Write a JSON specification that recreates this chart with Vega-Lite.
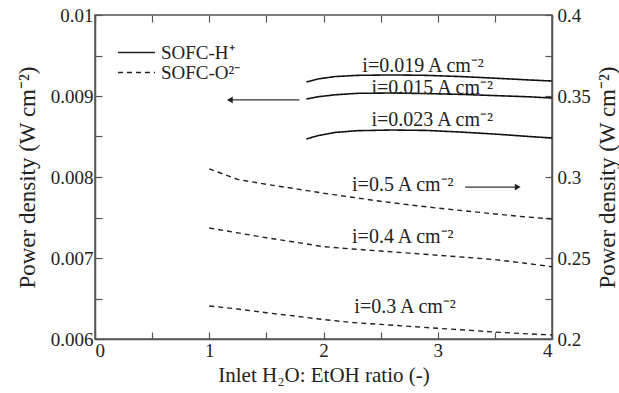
{
  "$schema": "https://vega.github.io/schema/vega-lite/v6.json",
  "width": 457,
  "height": 324,
  "autosize": {"type": "none"},
  "padding": {"left": 95, "top": 15, "right": 67, "bottom": 54},
  "background": "white",
  "config": {
    "font": "Liberation Serif",
    "view": {"stroke": "#555", "strokeWidth": 1.5},
    "axis": {
      "domainColor": "#555",
      "domainWidth": 1.5,
      "tickColor": "#555",
      "tickWidth": 1.2,
      "grid": false,
      "labelFont": "Liberation Serif",
      "labelFontSize": 19,
      "labelColor": "#222",
      "titleFont": "Liberation Serif",
      "titleFontSize": 22,
      "titleFontWeight": "normal",
      "titleColor": "#222"
    },
    "legend": {
      "labelFont": "Liberation Serif",
      "labelFontSize": 19,
      "labelColor": "#222"
    }
  },
  "datasets": {
    "solid": [
      {"series": "i=0.019", "type": "SOFC-H⁺", "ratio": 1.85, "pd": 0.009173},
      {"series": "i=0.019", "type": "SOFC-H⁺", "ratio": 1.95, "pd": 0.00921},
      {"series": "i=0.019", "type": "SOFC-H⁺", "ratio": 2.1, "pd": 0.00924},
      {"series": "i=0.019", "type": "SOFC-H⁺", "ratio": 2.3, "pd": 0.009255},
      {"series": "i=0.019", "type": "SOFC-H⁺", "ratio": 2.6, "pd": 0.00926},
      {"series": "i=0.019", "type": "SOFC-H⁺", "ratio": 2.9, "pd": 0.009255},
      {"series": "i=0.019", "type": "SOFC-H⁺", "ratio": 3.2, "pd": 0.00924},
      {"series": "i=0.019", "type": "SOFC-H⁺", "ratio": 3.5, "pd": 0.00922},
      {"series": "i=0.019", "type": "SOFC-H⁺", "ratio": 3.8, "pd": 0.009198},
      {"series": "i=0.019", "type": "SOFC-H⁺", "ratio": 4.0, "pd": 0.009185},
      {"series": "i=0.015", "type": "SOFC-H⁺", "ratio": 1.85, "pd": 0.008963},
      {"series": "i=0.015", "type": "SOFC-H⁺", "ratio": 1.95, "pd": 0.00899},
      {"series": "i=0.015", "type": "SOFC-H⁺", "ratio": 2.1, "pd": 0.009015},
      {"series": "i=0.015", "type": "SOFC-H⁺", "ratio": 2.3, "pd": 0.009033},
      {"series": "i=0.015", "type": "SOFC-H⁺", "ratio": 2.6, "pd": 0.009037},
      {"series": "i=0.015", "type": "SOFC-H⁺", "ratio": 2.9, "pd": 0.00903},
      {"series": "i=0.015", "type": "SOFC-H⁺", "ratio": 3.2, "pd": 0.00902},
      {"series": "i=0.015", "type": "SOFC-H⁺", "ratio": 3.5, "pd": 0.009005},
      {"series": "i=0.015", "type": "SOFC-H⁺", "ratio": 3.8, "pd": 0.00899},
      {"series": "i=0.015", "type": "SOFC-H⁺", "ratio": 4.0, "pd": 0.008975},
      {"series": "i=0.023", "type": "SOFC-H⁺", "ratio": 1.85, "pd": 0.008469},
      {"series": "i=0.023", "type": "SOFC-H⁺", "ratio": 1.95, "pd": 0.00851},
      {"series": "i=0.023", "type": "SOFC-H⁺", "ratio": 2.1, "pd": 0.00855},
      {"series": "i=0.023", "type": "SOFC-H⁺", "ratio": 2.3, "pd": 0.008572},
      {"series": "i=0.023", "type": "SOFC-H⁺", "ratio": 2.6, "pd": 0.00858},
      {"series": "i=0.023", "type": "SOFC-H⁺", "ratio": 2.9, "pd": 0.008575},
      {"series": "i=0.023", "type": "SOFC-H⁺", "ratio": 3.2, "pd": 0.008555},
      {"series": "i=0.023", "type": "SOFC-H⁺", "ratio": 3.5, "pd": 0.00853},
      {"series": "i=0.023", "type": "SOFC-H⁺", "ratio": 3.8, "pd": 0.0085},
      {"series": "i=0.023", "type": "SOFC-H⁺", "ratio": 4.0, "pd": 0.008481}
    ],
    "dashed": [
      {"series": "i=0.5", "type": "SOFC-O²⁻", "ratio": 1.0, "pd": 0.305},
      {"series": "i=0.5", "type": "SOFC-O²⁻", "ratio": 1.25, "pd": 0.2985},
      {"series": "i=0.5", "type": "SOFC-O²⁻", "ratio": 1.5, "pd": 0.2955},
      {"series": "i=0.5", "type": "SOFC-O²⁻", "ratio": 1.75, "pd": 0.2928},
      {"series": "i=0.5", "type": "SOFC-O²⁻", "ratio": 2.0, "pd": 0.29},
      {"series": "i=0.5", "type": "SOFC-O²⁻", "ratio": 2.25, "pd": 0.2875},
      {"series": "i=0.5", "type": "SOFC-O²⁻", "ratio": 2.5, "pd": 0.285},
      {"series": "i=0.5", "type": "SOFC-O²⁻", "ratio": 2.75, "pd": 0.2828},
      {"series": "i=0.5", "type": "SOFC-O²⁻", "ratio": 3.0, "pd": 0.2808},
      {"series": "i=0.5", "type": "SOFC-O²⁻", "ratio": 3.25, "pd": 0.279},
      {"series": "i=0.5", "type": "SOFC-O²⁻", "ratio": 3.5, "pd": 0.2772},
      {"series": "i=0.5", "type": "SOFC-O²⁻", "ratio": 3.75, "pd": 0.2755},
      {"series": "i=0.5", "type": "SOFC-O²⁻", "ratio": 4.0, "pd": 0.2741},
      {"series": "i=0.4", "type": "SOFC-O²⁻", "ratio": 1.0, "pd": 0.2685},
      {"series": "i=0.4", "type": "SOFC-O²⁻", "ratio": 1.25, "pd": 0.2655},
      {"series": "i=0.4", "type": "SOFC-O²⁻", "ratio": 1.5, "pd": 0.2625},
      {"series": "i=0.4", "type": "SOFC-O²⁻", "ratio": 1.75, "pd": 0.2598},
      {"series": "i=0.4", "type": "SOFC-O²⁻", "ratio": 2.0, "pd": 0.257},
      {"series": "i=0.4", "type": "SOFC-O²⁻", "ratio": 2.25, "pd": 0.2556},
      {"series": "i=0.4", "type": "SOFC-O²⁻", "ratio": 2.5, "pd": 0.2543},
      {"series": "i=0.4", "type": "SOFC-O²⁻", "ratio": 2.75, "pd": 0.253},
      {"series": "i=0.4", "type": "SOFC-O²⁻", "ratio": 3.0, "pd": 0.2517},
      {"series": "i=0.4", "type": "SOFC-O²⁻", "ratio": 3.25, "pd": 0.2504},
      {"series": "i=0.4", "type": "SOFC-O²⁻", "ratio": 3.5, "pd": 0.249},
      {"series": "i=0.4", "type": "SOFC-O²⁻", "ratio": 3.75, "pd": 0.2469},
      {"series": "i=0.4", "type": "SOFC-O²⁻", "ratio": 4.0, "pd": 0.2446},
      {"series": "i=0.3", "type": "SOFC-O²⁻", "ratio": 1.0, "pd": 0.2204},
      {"series": "i=0.3", "type": "SOFC-O²⁻", "ratio": 1.25, "pd": 0.2185},
      {"series": "i=0.3", "type": "SOFC-O²⁻", "ratio": 1.5, "pd": 0.2162},
      {"series": "i=0.3", "type": "SOFC-O²⁻", "ratio": 1.75, "pd": 0.2142},
      {"series": "i=0.3", "type": "SOFC-O²⁻", "ratio": 2.0, "pd": 0.212},
      {"series": "i=0.3", "type": "SOFC-O²⁻", "ratio": 2.25, "pd": 0.2102},
      {"series": "i=0.3", "type": "SOFC-O²⁻", "ratio": 2.5, "pd": 0.209},
      {"series": "i=0.3", "type": "SOFC-O²⁻", "ratio": 2.75, "pd": 0.2078},
      {"series": "i=0.3", "type": "SOFC-O²⁻", "ratio": 3.0, "pd": 0.2066},
      {"series": "i=0.3", "type": "SOFC-O²⁻", "ratio": 3.25, "pd": 0.2055},
      {"series": "i=0.3", "type": "SOFC-O²⁻", "ratio": 3.5, "pd": 0.2043},
      {"series": "i=0.3", "type": "SOFC-O²⁻", "ratio": 3.75, "pd": 0.2033},
      {"series": "i=0.3", "type": "SOFC-O²⁻", "ratio": 4.0, "pd": 0.2025}
    ],
    "solidLabels": [
      {"label": "i=0.019 A cm⁻²", "ratio": 2.34, "pd": 0.00937},
      {"label": "i=0.015 A cm⁻²", "ratio": 2.42, "pd": 0.009099},
      {"label": "i=0.023 A cm⁻²", "ratio": 2.42, "pd": 0.008704}
    ],
    "dashedLabels": [
      {"label": "i=0.5 A cm⁻²", "ratio": 2.25, "pd": 0.2951},
      {"label": "i=0.4 A cm⁻²", "ratio": 2.25, "pd": 0.2632},
      {"label": "i=0.3 A cm⁻²", "ratio": 2.27, "pd": 0.2198}
    ],
    "leftArrow": [{"from": 1.79, "to": 1.2, "head": 1.18, "pd": 0.008951}],
    "rightArrow": [{"from": 3.24, "to": 3.68, "head": 3.7, "pd": 0.2938}]
  },
  "layer": [
    {
      "layer": [
        {
          "data": {"name": "solid"},
          "mark": {"type": "line", "color": "#111", "strokeWidth": 1.6},
          "encoding": {
            "x": {
              "field": "ratio", "type": "quantitative",
              "scale": {"domain": [0, 4], "nice": false, "zero": false},
              "axis": {
                "orient": "bottom",
                "values": [0, 0.5, 1, 1.5, 2, 2.5, 3, 3.5, 4],
                "format": "~f",
                "labelExpr": "datum.value % 1 === 0 ? datum.label : ''",
                "tickSize": -7,
                "labelPadding": 9,
                "title": "Inlet H₂O: EtOH ratio (-)",
                "titleFontSize": 21,
                "titlePadding": 4,
                "encode": {"ticks": {"update": {"y2": {"signal": "datum.value % 1 === 0 ? -7 : -4"}}}}
              }
            },
            "y": {
              "field": "pd", "type": "quantitative",
              "scale": {"domain": [0.006, 0.01], "nice": false, "zero": false},
              "axis": {
                "orient": "left",
                "values": [0.006, 0.0065, 0.007, 0.0075, 0.008, 0.0085, 0.009, 0.0095, 0.01],
                "format": ".3~f",
                "labelExpr": "round(datum.value * 10000) % 10 === 0 ? datum.label : ''",
                "tickSize": -7,
                "labelPadding": 9,
                "title": "Power density (W cm⁻²)",
                "titleFontSize": 23,
                "titlePadding": 11,
                "encode": {"ticks": {"update": {"x2": {"signal": "round(datum.value * 10000) % 10 === 0 ? 7 : 4"}}}}
              }
            },
            "detail": {"field": "series"},
            "strokeDash": {
              "field": "type", "type": "nominal",
              "scale": {"domain": ["SOFC-H⁺", "SOFC-O²⁻"], "range": [[1, 0], [5, 4]]},
              "legend": {
                "title": null,
                "orient": "none",
                "legendX": 32,
                "legendY": 28,
                "padding": 0,
                "symbolType": "M-5,0H5",
                "symbolSize": 55,
                "symbolStrokeWidth": 1.5,
                "symbolStrokeColor": "#111",
                "labelOffset": 15,
                "rowPadding": -6
              }
            }
          }
        },
        {
          "data": {"name": "solidLabels"},
          "mark": {"type": "text", "align": "left", "baseline": "middle", "fontSize": 20, "font": "Liberation Serif", "color": "#222"},
          "encoding": {
            "x": {"field": "ratio", "type": "quantitative"},
            "y": {"field": "pd", "type": "quantitative"},
            "text": {"field": "label"}
          }
        },
        {
          "data": {"name": "leftArrow"},
          "mark": {"type": "rule", "color": "#333", "strokeWidth": 1.3},
          "encoding": {
            "x": {"field": "from", "type": "quantitative"},
            "x2": {"field": "to"},
            "y": {"field": "pd", "type": "quantitative"}
          }
        },
        {
          "data": {"name": "leftArrow"},
          "mark": {"type": "point", "shape": "triangle-left", "filled": true, "color": "#222", "size": 45, "opacity": 1},
          "encoding": {
            "x": {"field": "head", "type": "quantitative"},
            "y": {"field": "pd", "type": "quantitative"}
          }
        }
      ]
    },
    {
      "layer": [
        {
          "data": {"name": "dashed"},
          "mark": {"type": "line", "color": "#222", "strokeWidth": 1.4},
          "encoding": {
            "x": {
              "field": "ratio", "type": "quantitative",
              "axis": {
                "orient": "top",
                "values": [0, 0.5, 1, 1.5, 2, 2.5, 3, 3.5, 4],
                "labels": false,
                "title": null,
                "domain": false,
                "tickSize": -7,
                "encode": {"ticks": {"update": {"y2": {"signal": "datum.value % 1 === 0 ? 7 : 4"}}}}
              }
            },
            "y": {
              "field": "pd", "type": "quantitative",
              "scale": {"domain": [0.2, 0.4], "nice": false, "zero": false},
              "axis": {
                "orient": "right",
                "values": [0.2, 0.225, 0.25, 0.275, 0.3, 0.325, 0.35, 0.375, 0.4],
                "format": ".2~f",
                "labelExpr": "round(datum.value * 1000) % 50 === 0 ? datum.label : ''",
                "tickSize": -7,
                "labelPadding": 12,
                "title": "Power density (W cm⁻²)",
                "titleFontSize": 23,
                "titleAngle": 270,
                "titleBaseline": "top",
                "titlePadding": 6,
                "encode": {"ticks": {"update": {"x2": {"signal": "round(datum.value * 1000) % 50 === 0 ? -7 : -4"}}}}
              }
            },
            "detail": {"field": "series"},
            "strokeDash": {"field": "type", "type": "nominal"}
          }
        },
        {
          "data": {"name": "dashedLabels"},
          "mark": {"type": "text", "align": "left", "baseline": "middle", "fontSize": 20, "font": "Liberation Serif", "color": "#222"},
          "encoding": {
            "x": {"field": "ratio", "type": "quantitative"},
            "y": {"field": "pd", "type": "quantitative"},
            "text": {"field": "label"}
          }
        },
        {
          "data": {"name": "rightArrow"},
          "mark": {"type": "rule", "color": "#333", "strokeWidth": 1.3},
          "encoding": {
            "x": {"field": "from", "type": "quantitative"},
            "x2": {"field": "to"},
            "y": {"field": "pd", "type": "quantitative"}
          }
        },
        {
          "data": {"name": "rightArrow"},
          "mark": {"type": "point", "shape": "triangle-right", "filled": true, "color": "#222", "size": 45, "opacity": 1},
          "encoding": {
            "x": {"field": "head", "type": "quantitative"},
            "y": {"field": "pd", "type": "quantitative"}
          }
        }
      ]
    }
  ],
  "resolve": {"scale": {"y": "independent"}, "axis": {"x": "independent"}}
}
